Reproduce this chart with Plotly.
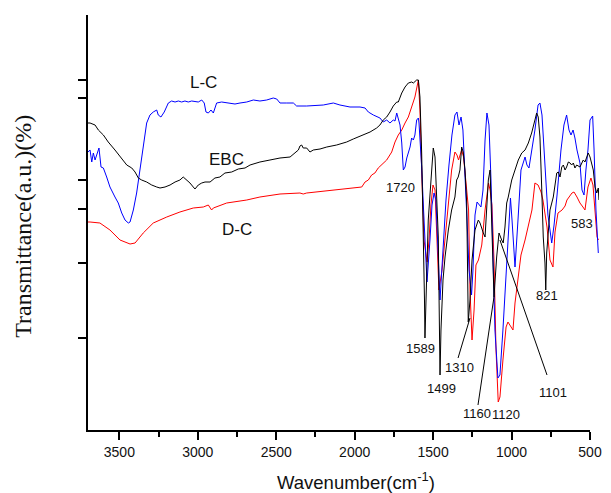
import plotly.graph_objects as go

# ---- data (wavenumber in cm-1, transmittance in arbitrary units) ----
lc_wn = [3700, 3687, 3676, 3666, 3655, 3638, 3630, 3617, 3602, 3581,
         3560, 3528, 3507, 3485, 3464, 3443, 3432, 3411, 3390, 3369,
         3348, 3326, 3305, 3284, 3262, 3252, 3235, 3214, 3188, 3167,
         3145, 3124, 3103, 3082, 3061, 3039, 2997, 2975, 2959, 2948,
         2933, 2916, 2901, 2880, 2848, 2806, 2763, 2731, 2688, 2646,
         2604, 2561, 2519, 2497, 2476, 2433, 2412, 2391, 2370, 2306,
         2200, 2136, 2094, 2030, 1966, 1934, 1913, 1881, 1839, 1818,
         1796, 1775, 1754, 1743, 1732, 1722, 1711, 1700, 1690, 1679,
         1668, 1647, 1637, 1626, 1616, 1605, 1594, 1590, 1584, 1573,
         1563, 1552, 1539, 1520, 1507, 1494, 1482, 1469, 1456, 1437,
         1418, 1399, 1380, 1361, 1348, 1335, 1322, 1310, 1297, 1284,
         1271, 1255, 1246, 1233, 1220, 1208, 1195, 1182, 1169, 1157,
         1144, 1131, 1118, 1106, 1087, 1074, 1055, 1035, 1016, 1007,
         997, 978, 959, 940, 914, 902, 889, 870, 851, 831,
         819, 806, 787, 768, 744, 729, 710, 685, 666, 649,
         634, 621, 608, 596, 583, 564, 551, 538, 526, 513,
         500, 483, 474, 462, 447]
lc_t = [278, 280, 268, 277, 270, 280, 282, 263, 262, 253,
        243, 233, 227, 217, 210, 207, 208, 220, 237, 260,
        283, 307, 315, 318, 320, 315, 313, 318, 327, 329,
        328, 329, 328, 329, 328, 329, 328, 330, 327, 318,
        317, 320, 317, 327, 328, 327, 326, 327, 328, 330,
        329, 330, 332, 331, 327, 327, 327, 327, 324, 324,
        325, 327, 325, 323, 323, 322, 318, 315, 312, 308,
        310, 307, 310, 309, 317, 312, 305, 287, 260, 263,
        272, 283, 292, 290, 295, 310, 312, 307, 293, 263,
        227, 187, 148, 190, 225, 237, 230, 180, 130, 180,
        230, 265, 295, 315, 318, 305, 313, 300, 260, 210,
        160, 135, 160, 215, 228, 225, 223, 240, 290, 317,
        305, 250, 170, 100, 52, 55, 100, 160, 215, 232,
        210, 163, 210, 260, 273, 265, 262, 280, 300, 325,
        327, 315, 260, 215, 187, 205, 235, 280, 305, 315,
        300, 295, 300, 292, 280, 267, 240, 235, 260, 280,
        310, 314, 280, 220, 177]

dc_wn = [3700, 3687, 3624, 3560, 3496, 3432, 3400, 3348, 3284, 3198,
         3114, 3029, 2965, 2933, 2912, 2901, 2816, 2688, 2604, 2476,
         2349, 2328, 2306, 2200, 2094, 1987, 1955, 1934, 1913, 1892,
         1871, 1850, 1828, 1796, 1764, 1743, 1722, 1700, 1679, 1658,
         1637, 1616, 1594, 1584, 1571, 1558, 1539, 1526, 1514, 1501,
         1488, 1475, 1463, 1443, 1424, 1405, 1382, 1361, 1348, 1338,
         1318, 1306, 1297, 1284, 1274, 1265, 1252, 1239, 1227, 1211,
         1190, 1169, 1157, 1147, 1137, 1125, 1112, 1099, 1085, 1074,
         1055, 1035, 1023, 1004, 991, 978, 959, 940, 914, 895,
         870, 851, 831, 812, 800, 774, 755, 736, 723, 704,
         678, 659, 647, 615, 602, 583, 564, 545, 532, 513,
         494, 481, 468, 455, 446]
dc_t = [208, 208, 207, 200, 190, 186, 187, 197, 207, 213,
        218, 222, 223, 225, 220, 222, 227, 230, 233, 236,
        237, 236, 237, 239, 241, 243, 243, 248, 250, 255,
        257, 262, 265, 270, 278, 288, 295, 300, 307, 313,
        323, 333, 350, 320, 250, 190, 168, 190, 225, 245,
        240, 190, 140, 160, 193, 227, 260, 278, 275, 270,
        280, 273, 260, 240, 220, 140, 90, 120, 165, 170,
        185, 220, 237, 247, 240, 225, 170, 80, 28, 33,
        70, 103, 108, 103, 100, 127, 153, 175, 190, 203,
        220, 247, 245, 238, 230, 203, 170, 163, 198, 217,
        220, 224, 230, 237, 238, 233, 227, 223, 220, 243,
        252, 245, 220, 193, 190]

ebc_wn = [3700, 3687, 3655, 3634, 3602, 3571, 3528, 3485, 3453, 3421,
          3400, 3379, 3358, 3326, 3294, 3262, 3241, 3209, 3177, 3145,
          3114, 3093, 3071, 3050, 3029, 3018, 2997, 2975, 2954, 2922,
          2891, 2859, 2827, 2784, 2742, 2699, 2667, 2604, 2540, 2476,
          2412, 2380, 2359, 2349, 2338, 2328, 2306, 2285, 2264, 2221,
          2178, 2115, 2051, 2009, 1945, 1902, 1860, 1839, 1818, 1796,
          1775, 1754, 1732, 1722, 1700, 1679, 1658, 1637, 1626, 1605,
          1594, 1584, 1573, 1563, 1555, 1552, 1546, 1531, 1509, 1499,
          1488, 1477, 1467, 1456, 1450, 1437, 1424, 1403, 1382, 1361,
          1350, 1340, 1329, 1318, 1308, 1297, 1286, 1276, 1265, 1252,
          1233, 1212, 1201, 1180, 1169, 1148, 1137, 1127, 1112, 1095,
          1080, 1063, 1053, 1042, 1031, 1021, 999, 978, 957, 935,
          914, 893, 872, 851, 840, 830, 819, 808, 798, 787,
          782, 776, 766, 755, 734, 723, 712, 702, 691, 680,
          670, 659, 649, 638, 627, 617, 606, 596, 585, 564,
          553, 543, 532, 521, 511, 500, 489, 479, 468, 457,
          447, 443]
ebc_t = [307, 307, 305, 300, 295, 288, 280, 272, 265, 262,
         258, 252, 250, 248, 245, 243, 242, 243, 245, 248,
         250, 253, 250, 247, 243, 241, 245, 247, 248, 248,
         252, 253, 257, 258, 261, 262, 265, 268, 270, 272,
         273, 277, 280, 284, 285, 282, 282, 278, 280, 281,
         283, 285, 288, 291, 295, 298, 302, 305, 310, 313,
         318, 324, 328, 328, 337, 343, 347, 348, 347, 350,
         350, 333, 277, 210, 130, 92, 130, 210, 260, 282,
         273, 233, 193, 55, 100, 150, 173, 200, 220, 233,
         250, 253, 260, 283, 278, 260, 227, 108, 130, 170,
         200, 210, 207, 197, 193, 250, 260, 210, 133, 173,
         197, 190, 187, 203, 227, 233, 250, 260, 270, 277,
         280, 287, 297, 310, 317, 313, 293, 243, 193, 167,
         140, 177, 200, 220, 233, 247, 257, 258, 253, 263,
         265, 260, 263, 268, 267, 265, 267, 262, 265, 263,
         267, 270, 268, 272, 277, 273, 267, 260, 243, 237,
         242, 230]

# axis settings
x_start, x_axis_end, x_data_end = 3700, 500, 442.6
x_ticks = [3500, 3000, 2500, 2000, 1500, 1000, 500]
x_minor = [3250, 2750, 2250, 1750, 1250, 750]
y_range = [0, 415]
y_ticks = [92, 167, 221, 250, 332, 350]

series_labels = ["L-C", "EBC", "D-C"]
series_lab_wn = [2965, 2816, 2752]
series_lab_t = [348, 271, 201]

peak_labels = ["1720", "583", "821", "1589", "1499", "1310", "1160", "1120", "1101"]
peak_lab_wn = [1711, 553, 772, 1579, 1445, 1329, 1218, 1035, 734]
peak_lab_t = [243, 207, 135, 82, 42, 63, 17, 16, 38]

# leader lines: (label end wn, label end t, peak wn, peak t)
leader_lines = [
    (1341, 72, 1265, 112),   # 1310
    (1214, 25, 1112, 133),   # 1160
    (774, 55, 1074, 190),    # 1101
]

fig = go.Figure()
# empty trace so that the visible (ticked) x axis gets drawn
fig.add_trace(go.Scatter(x=[], y=[], xaxis="x", yaxis="y", mode="lines",
                         hoverinfo="skip", showlegend=False))
for wn, tt, name, col in [(dc_wn, dc_t, "D-C", "#ff0000"),
                          (lc_wn, lc_t, "L-C", "#0000ff"),
                          (ebc_wn, ebc_t, "EBC", "#000000")]:
    fig.add_trace(go.Scatter(x=wn, y=tt, mode="lines", name=name,
                             xaxis="x2", yaxis="y",
                             line=dict(color=col, width=1)))

for txt, xv, yv in zip(series_labels, series_lab_wn, series_lab_t):
    fig.add_annotation(x=xv, y=yv, xref="x2", yref="y", text=txt, showarrow=False,
                       font=dict(family="Liberation Sans, Arial", size=17, color="#111111"))
for txt, xv, yv in zip(peak_labels, peak_lab_wn, peak_lab_t):
    fig.add_annotation(x=xv, y=yv, xref="x2", yref="y", text=txt, showarrow=False,
                       font=dict(family="Liberation Sans, Arial", size=13, color="#111111"))
for x0, y0, x1, y1 in leader_lines:
    fig.add_shape(type="line", xref="x2", yref="y", x0=x0, y0=y0, x1=x1, y1=y1,
                  line=dict(color="#000000", width=1))

# axis titles
fig.add_annotation(xref="paper", yref="paper", x=0.5245, y=-0.123,
                   xanchor="center", yanchor="middle", showarrow=False,
                   text="Wavenumber(cm<sup>-1</sup>)",
                   font=dict(family="Liberation Sans, Arial", size=18.5, color="#111111"))
fig.add_annotation(xref="paper", yref="paper", x=-0.127, y=0.49,
                   xanchor="center", yanchor="middle", showarrow=False, textangle=-90,
                   text="Transmittance(a.u.)(%)",
                   font=dict(family="Liberation Serif, Times New Roman", size=24, color="#111111"))

axis_frac = (x_start - x_axis_end) / (x_start - x_data_end)

fig.update_layout(
    template="none",
    width=611, height=493,
    margin=dict(l=88, r=12, t=15, b=63, autoexpand=False),
    paper_bgcolor="white", plot_bgcolor="white",
    showlegend=False,
    xaxis=dict(
        domain=[0, axis_frac], anchor="y", automargin=False,
        range=[x_start, x_axis_end], tickvals=x_ticks, ticks="outside", ticklen=8,
        tickwidth=1.5, tickcolor="#000000", showline=True, linewidth=2,
        linecolor="#000000", showgrid=False, zeroline=False,
        tickfont=dict(family="Liberation Sans, Arial", size=14, color="#111111"),
        minor=dict(tickvals=x_minor, ticks="outside", ticklen=5, tickwidth=1.5,
                   tickcolor="#000000", showgrid=False),
    ),
    xaxis2=dict(
        domain=[0, 1], anchor="y", range=[x_start, x_data_end], automargin=False,
        visible=False, showgrid=False, zeroline=False,
    ),
    yaxis=dict(
        anchor="x", automargin=False,
        range=y_range, tickvals=y_ticks, ticks="outside", ticklen=8,
        tickwidth=1.5, tickcolor="#000000", showticklabels=False,
        showline=True, linewidth=2, linecolor="#000000", showgrid=False,
        zeroline=False,
    ),
)

fig.write_html("out.html")
